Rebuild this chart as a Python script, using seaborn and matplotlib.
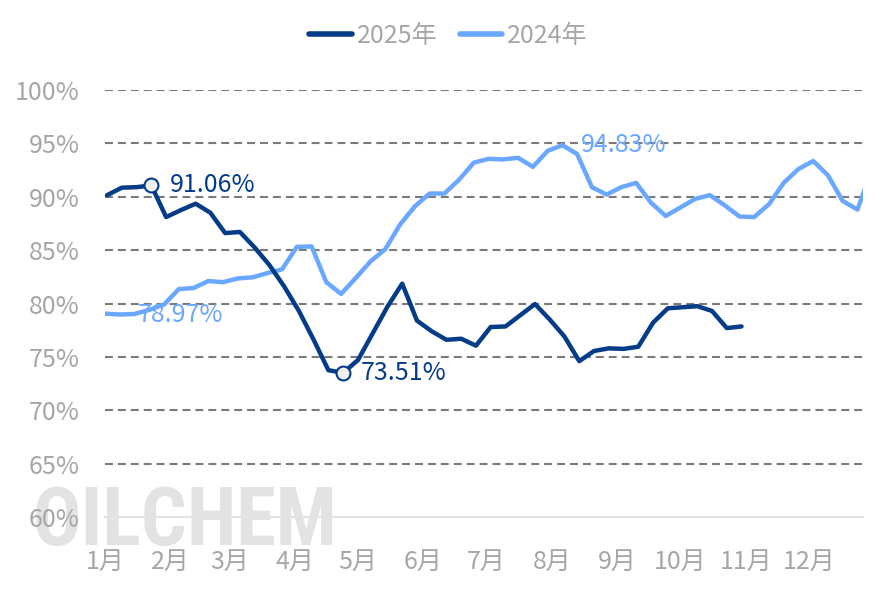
import matplotlib

matplotlib.use("Agg")
import matplotlib.pyplot as plt  # noqa: E402
import numpy as np  # noqa: E402
import pandas as pd  # noqa: E402
import seaborn as sns  # noqa: E402
from matplotlib import font_manager  # noqa: E402
from matplotlib.lines import Line2D  # noqa: E402

# --- data (weekly operating rate, %) ---
YEAR_2025 = "2025年"
YEAR_2024 = "2024年"
MONTH_LABELS = [f"{m}月" for m in range(1, 13)]
Y_TICKS = [60, 65, 70, 75, 80, 85, 90, 95, 100]

rate_2025 = [
    90.15, 90.85, 90.9, 91.06, 88.1, 88.75, 89.35, 88.5, 86.6, 86.7,
    85.25, 83.6, 81.6, 79.3, 76.6, 73.75, 73.51, 74.7, 77.2, 79.7,
    81.86, 78.4, 77.4, 76.6, 76.7, 76.05, 77.8, 77.85, 78.9, 79.95,
    78.5, 76.9, 74.6, 75.55, 75.8, 75.75, 75.95, 78.2, 79.55, 79.65,
    79.75, 79.3, 77.7, 77.85,
]
rate_2024 = [
    79.05, 78.97, 79.02, 79.4, 79.9, 81.35, 81.45, 82.1, 82.0, 82.35,
    82.45, 82.85, 83.2, 85.3, 85.35, 82.0, 80.9, 82.4, 83.95, 85.1,
    87.4, 89.1, 90.3, 90.3, 91.6, 93.2, 93.55, 93.5, 93.65, 92.8,
    94.3, 94.83, 94.0, 90.9, 90.2, 90.9, 91.3, 89.45, 88.2, 89.0,
    89.8, 90.15, 89.2, 88.15, 88.1, 89.3, 91.3, 92.6, 93.35, 92.0,
    89.6, 88.8, 92.7,
]

dates_2025 = pd.date_range("2025-01-02", periods=len(rate_2025), freq="7D")
dates_2024 = pd.date_range("2024-01-01", periods=len(rate_2024), freq="7D")
month_starts = pd.date_range("2025-01-01", periods=12, freq="MS")

NAVY = "#053C88"
LIGHT = "#6AA8FF"
GREY_TEXT = "#A6A6A6"


def _day_of_year(dates):
    return np.array([(d - pd.Timestamp(year=d.year, month=1, day=1)).days for d in dates])


def _pick_font(candidates):
    names = {f.name for f in font_manager.fontManager.ttflist}
    for name in candidates:
        if name in names:
            return name
    return "DejaVu Sans"


df = pd.concat(
    [
        pd.DataFrame({"day": _day_of_year(dates_2024), "rate": rate_2024, "year": YEAR_2024}),
        pd.DataFrame({"day": _day_of_year(dates_2025), "rate": rate_2025, "year": YEAR_2025}),
    ],
    ignore_index=True,
)

sns.set_style("white")
plt.rcParams["font.family"] = ["Noto Sans CJK SC", "DejaVu Sans"]

fig = plt.figure(figsize=(8.86, 5.91), dpi=100)
ax = fig.add_axes([0.1185, 0.1252, 0.8555, 0.7225])
ax.set_facecolor("none")

# watermark behind the axes
wm_font = _pick_font(["Liberation Sans Narrow", "Roboto Condensed", "DejaVu Sans"])
wm_size = 43 if wm_font == "DejaVu Sans" else 58
fig.text(
    0.037, 1 - 545 / 591, "OILCHEM", family=wm_font, fontsize=wm_size, fontweight="bold",
    color="#E3E3E3", ha="left", va="baseline", zorder=-1,
)

sns.lineplot(
    data=df, x="day", y="rate", hue="year",
    hue_order=[YEAR_2024, YEAR_2025],
    palette={YEAR_2024: LIGHT, YEAR_2025: NAVY},
    estimator=None, sort=False, linewidth=3.2, legend=False, ax=ax,
)
for line in ax.get_lines():
    line.set_solid_capstyle("round")

# max / min mark points
for year, color, show_marker in [(YEAR_2025, NAVY, True), (YEAR_2024, LIGHT, False)]:
    sub = df[df["year"] == year].reset_index(drop=True)
    for idx in (sub["rate"].idxmax(), sub["rate"].idxmin()):
        x, y = sub.loc[idx, "day"], sub.loc[idx, "rate"]
        if show_marker:
            ax.plot(
                x, y, marker="o", markersize=10, markerfacecolor="#F0F0F0",
                markeredgecolor=color, markeredgewidth=1.5, zorder=4,
            )
        ax.annotate(
            f"{y:.2f}%", xy=(x, y), xytext=(13, 0), textcoords="offset points",
            ha="left", va="center", color=color, fontsize=18, zorder=5,
        )

ax.set_xlim(0, 359.6)
ax.set_ylim(60, 100)
ax.set_xticks(_day_of_year(month_starts))
ax.set_xticklabels(MONTH_LABELS)
ax.set_yticks(Y_TICKS)
ax.set_yticklabels([f"{v}%" for v in Y_TICKS])
ax.set_xlabel("")
ax.set_ylabel("")

ax.tick_params(axis="x", length=6, width=1.5, color="#E3E3E3", labelcolor=GREY_TEXT,
               labelsize=18, pad=17)
ax.tick_params(axis="y", length=0, labelcolor=GREY_TEXT, labelsize=18, pad=18)

ax.set_axisbelow(True)
ax.yaxis.grid(True, color="#7A7A7A", linewidth=1.5, linestyle=(0, (3.8, 2.4)))
ax.xaxis.grid(False)
ax.yaxis.get_gridlines()[0].set_visible(False)

for side in ("left", "top", "right"):
    ax.spines[side].set_visible(False)
ax.spines["bottom"].set_color("#E3E3E3")
ax.spines["bottom"].set_linewidth(1.5)

handles = [
    Line2D([], [], color=NAVY, linewidth=4, solid_capstyle="round"),
    Line2D([], [], color=LIGHT, linewidth=4, solid_capstyle="round"),
]
fig.legend(
    handles, [YEAR_2025, YEAR_2024], loc="center", bbox_to_anchor=(0.506, 1 - 36 / 591),
    ncol=2, frameon=False, fontsize=18, handlelength=1.7, handletextpad=0.2,
    columnspacing=0.9, labelcolor=GREY_TEXT,
)

fig.savefig("out.png", dpi=100)
plt.close(fig)
